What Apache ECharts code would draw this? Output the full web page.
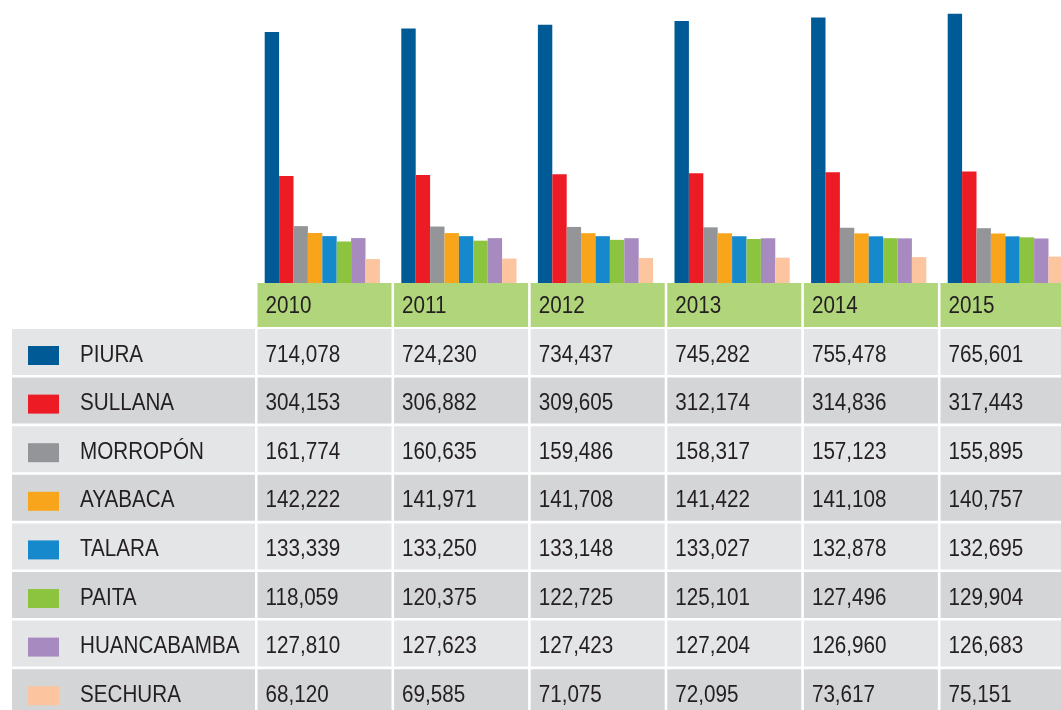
<!DOCTYPE html>
<html lang="es">
<head>
    <meta charset="UTF-8">
    <title>Población por provincia - Piura</title>
    <style>
        html, body { margin: 0; padding: 0; background: #fff; overflow: hidden; }
        /* la última columna queda cortada por el borde, como en el original */
        .box { width: 1080px; height: 710px; }
    </style>
</head>
<body>
    <div class="box"></div>

    <script src="https://cdn.jsdelivr.net/npm/echarts@6/dist/echarts.min.js"></script>
    <script>
        // años (columnas)
        let years = ["2010", "2011", "2012", "2013", "2014", "2015"];
        // provincias (filas)
        let provinces = ["PIURA", "SULLANA", "MORROPÓN", "AYABACA", "TALARA", "PAITA", "HUANCABAMBA", "SECHURA"];
        let colors = ["#005a96", "#ed1c24", "#939598", "#f8a51b", "#1589cb", "#8cc43f", "#a78bc0", "#fcc59f"];

        let piura = [714078, 724230, 734437, 745282, 755478, 765601];
        let sullana = [304153, 306882, 309605, 312174, 314836, 317443];
        let morropon = [161774, 160635, 159486, 158317, 157123, 155895];
        let ayabaca = [142222, 141971, 141708, 141422, 141108, 140757];
        let talara = [133339, 133250, 133148, 133027, 132878, 132695];
        let paita = [118059, 120375, 122725, 125101, 127496, 129904];
        let huancabamba = [127810, 127623, 127423, 127204, 126960, 126683];
        let sechura = [68120, 69585, 71075, 72095, 73617, 75151];

        let values = [piura, sullana, morropon, ayabaca, talara, paita, huancabamba, sechura];

        let myChart = echarts.init(document.querySelector(".box"));

        let font = '"Liberation Sans", sans-serif';
        let squeeze = 0.86; // la fuente original es condensada
        let pitch = 136.6;
        let colX = 257.5;
        let cellW = 134;
        let headY = 283;
        let rowY = 329;
        let rowH = 46;
        let rowPitch = 48.6;

        function label(x, y, txt) {
            return {
                type: "text",
                x: x, y: y,
                scaleX: squeeze,
                style: { text: txt, font: "24px " + font, fill: "#231f20", verticalAlign: "middle" }
            };
        }

        // tabla dibujada con graphic
        let graphic = [];
        years.forEach(function (y, i) {
            graphic.push({
                type: "rect",
                shape: { x: colX + i * pitch, y: headY, width: cellW, height: 44 },
                style: { fill: "#b1d57b" }
            });
            graphic.push(label(colX + i * pitch + 8, headY + 23, y));
        });
        provinces.forEach(function (p, r) {
            let y0 = rowY + r * rowPitch;
            let bg = r % 2 == 0 ? "#e4e5e7" : "#d4d5d7";
            graphic.push({
                type: "rect",
                shape: { x: 12, y: y0, width: 243, height: rowH },
                style: { fill: bg }
            });
            graphic.push({
                type: "rect",
                shape: { x: 28, y: y0 + 17, width: 31, height: 19 },
                style: { fill: colors[r] }
            });
            graphic.push(label(80, y0 + 26, p));
            years.forEach(function (yr, i) {
                graphic.push({
                    type: "rect",
                    shape: { x: colX + i * pitch, y: y0, width: cellW, height: rowH },
                    style: { fill: bg }
                });
                graphic.push(label(colX + i * pitch + 8, y0 + 26, values[r][i].toLocaleString("en-US")));
            });
        });

        let series = provinces.map(function (p, r) {
            return {
                name: p,
                type: "bar",
                data: values[r],
                barWidth: 14.4,
                barGap: "0%",
                itemStyle: { color: colors[r] }
            };
        });

        let option = {
            animation: false,
            grid: {
                left: 254,
                top: 0,
                width: pitch * 6,
                bottom: 427,
                containLabel: false
            },
            xAxis: {
                type: "category",
                data: years,
                axisLine: { show: false },
                axisTick: { show: false },
                axisLabel: { show: false }
            },
            yAxis: {
                type: "value",
                min: 0,
                max: 805000,
                show: false,
                splitLine: { show: false }
            },
            graphic: graphic,
            series: series
        };
        myChart.setOption(option);
    </script>
</body>
</html>
